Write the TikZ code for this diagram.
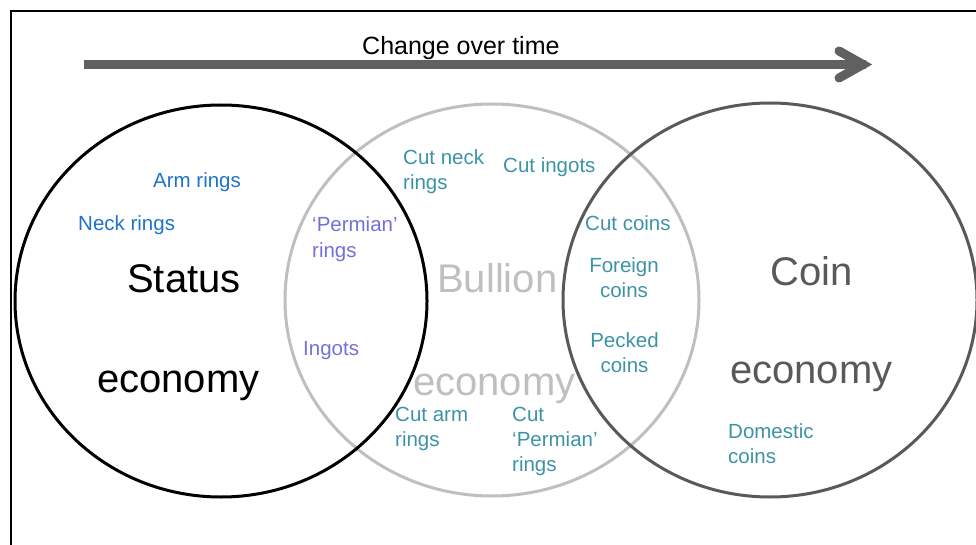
\documentclass[tikz,border=0pt]{standalone}
\usepackage{fontspec}
\setmainfont{Liberation Sans}
\usepackage{xcolor}
\usepackage{tikz}
\usetikzlibrary{calc, positioning}

\definecolor{arrowgray}{RGB}{96,96,96}
\definecolor{bulliongray}{RGB}{191,191,191}
\definecolor{coingray}{RGB}{89,89,89}
\definecolor{armblue}{RGB}{31,116,200}
\definecolor{permpurple}{RGB}{115,112,217}
\definecolor{cutteal}{RGB}{61,147,166}

\begin{document}
\begin{tikzpicture}[x=1pt, y=-1pt,
    biglabel/.style={inner sep=0pt, anchor=base west, font=\fontsize{40}{40}\selectfont},
    lbl/.style={inner sep=0pt, anchor=base west, align=left, font=\fontsize{20.5}{25}\selectfont},
    ring/.style={line width=3pt}]
    \useasboundingbox (0,0) rectangle (976,545);

    % Khung ngoài (chỉ cạnh trên và cạnh trái)
    \draw[line width=2pt] (11,545) -- (11,11) -- (976,11);

    % Mũi tên thời gian
    \coordinate (t0) at (84,64.5);
    \coordinate (t1) at (866,64.5);
    \coordinate (tip) at (863,64.5);
    \draw[line width=9pt, arrowgray] (t0) -- (t1);
    \draw[line width=9pt, arrowgray, line cap=round, line join=miter]
        (839,51) -- (tip) -- (839,78);
    \node[inner sep=0pt, anchor=base west, font=\fontsize{25}{25}\selectfont]
        (time) at (362,55) {Change over time};

    % Ba vòng tròn
    \draw[ring, bulliongray] (492,300) ellipse (207 and 196);
    \draw[ring, black] (221,301) ellipse (206 and 196);
    \draw[ring, coingray] (770,300) ellipse (207 and 197);

    % Nhãn lớn
    \node[biglabel] (status) at (127,292) {Status};
    \node[biglabel] (stateco) at (97,392) {economy};
    \node[biglabel, bulliongray] (bullion) at (437,292) {Bullion};
    \node[biglabel, bulliongray] (bulleco) at (413,395) {economy};
    \node[biglabel, coingray] (coin) at (770,285) {Coin};
    \node[biglabel, coingray] (coineco) at (730,383) {economy};

    % Nhãn nhỏ (điểm neo = đường chân chữ của dòng cuối)
    \node[lbl, armblue] (arm) at (153,188) {Arm rings};
    \node[lbl, armblue] (neck) at (78,230) {Neck rings};
    \node[lbl, permpurple] (perm) at (312,257) {‘Permian’\\rings};
    \node[lbl, permpurple] (ingots) at (303,355) {Ingots};
    \node[lbl, cutteal] (cutneck) at (403,190) {Cut neck\\rings};
    \node[lbl, cutteal] (cuting) at (503,173) {Cut ingots};
    \node[lbl, cutteal] (cutcoins) at (585,231) {Cut coins};
    \node[lbl, cutteal, anchor=base, align=center] (foreign) at (624,297) {Foreign\\coins};
    \node[lbl, cutteal, anchor=base, align=center] (pecked) at (624.5,372) {Pecked\\coins};
    \node[lbl, cutteal] (cutarm) at (395,446) {Cut arm\\rings};
    \node[lbl, cutteal] (cutperm) at (512,471) {Cut\\‘Permian’\\rings};
    \node[lbl, cutteal] (domestic) at (728,463) {Domestic\\coins};
\end{tikzpicture}
\end{document}
